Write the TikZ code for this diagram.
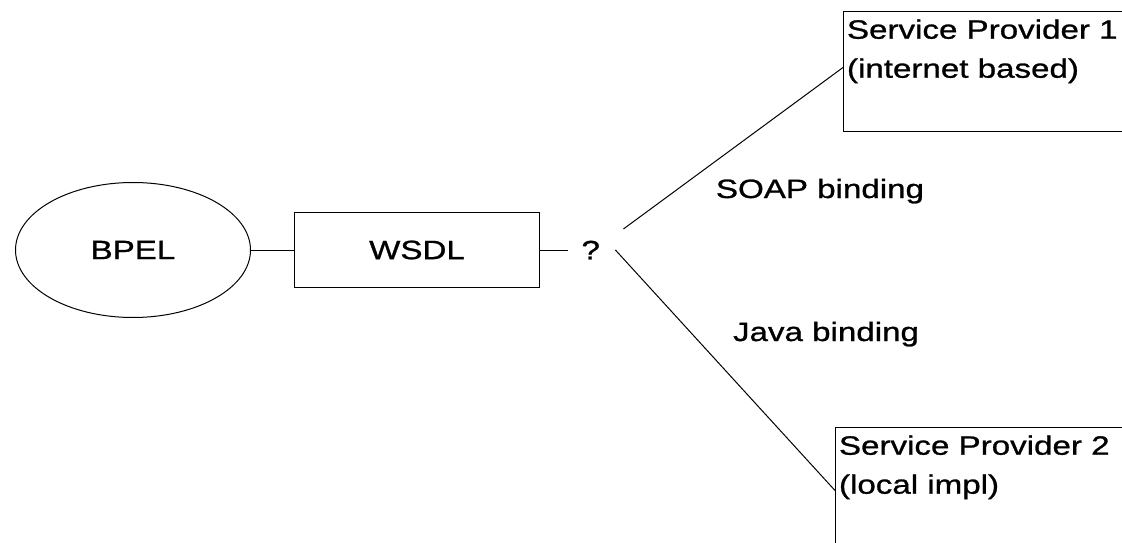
\documentclass[tikz,border=0pt]{standalone}
\usepackage{fontspec}
\setmainfont{Liberation Sans}[FakeStretch=1.25, FakeBold=1]
\usetikzlibrary{shapes, positioning}

\begin{document}
\begin{tikzpicture}[
    x=1pt, y=1pt,
    line width=1pt,
    font=\fontsize{26.5pt}{39pt}\selectfont,
    proc/.style={
        draw, ellipse, minimum width=235pt, minimum height=135pt, inner sep=0pt
    },
    block/.style={
        rectangle, draw, minimum width=245pt, minimum height=75pt, inner sep=0pt
    },
    provider/.style={
        rectangle, draw, anchor=north west, minimum width=300pt, minimum height=#1, inner sep=0pt
    },
    boxtext/.style={
        anchor=north west, align=left, inner xsep=3.5pt, inner ysep=8pt
    }
]

    \useasboundingbox (0,0) rectangle (1122,542);

    % --- nodes ---
    \node [proc] (bpel) at (133,292) {BPEL};
    \node [block, right=43pt of bpel] (wsdl) {WSDL};
    \node [right=28pt of wsdl, inner xsep=13pt] (choice) {?};

    \node [provider=120pt] (sp1) at (843,531) {};
    \node [boxtext] (sp1text) at (sp1.north west) {Service Provider 1\\(internet based)};
    \node [provider=126pt] (sp2) at (835,115) {};
    \node [boxtext] (sp2text) at (sp2.north west) {Service Provider 2\\(local impl)};

    \node [anchor=base] (soap) at (820,344) {SOAP binding};
    \node [anchor=base] (java) at (826,201) {Java binding};

    % --- edges ---
    \path [draw] (bpel) -- (wsdl);
    \path [draw] (wsdl) -- (choice);
    \path [draw] ([xshift=10pt, yshift=21pt]choice.east) -- ([yshift=4pt]sp1.west);
    \path [draw] ([xshift=2pt]choice.east) -- (sp2.west);

\end{tikzpicture}
\end{document}
